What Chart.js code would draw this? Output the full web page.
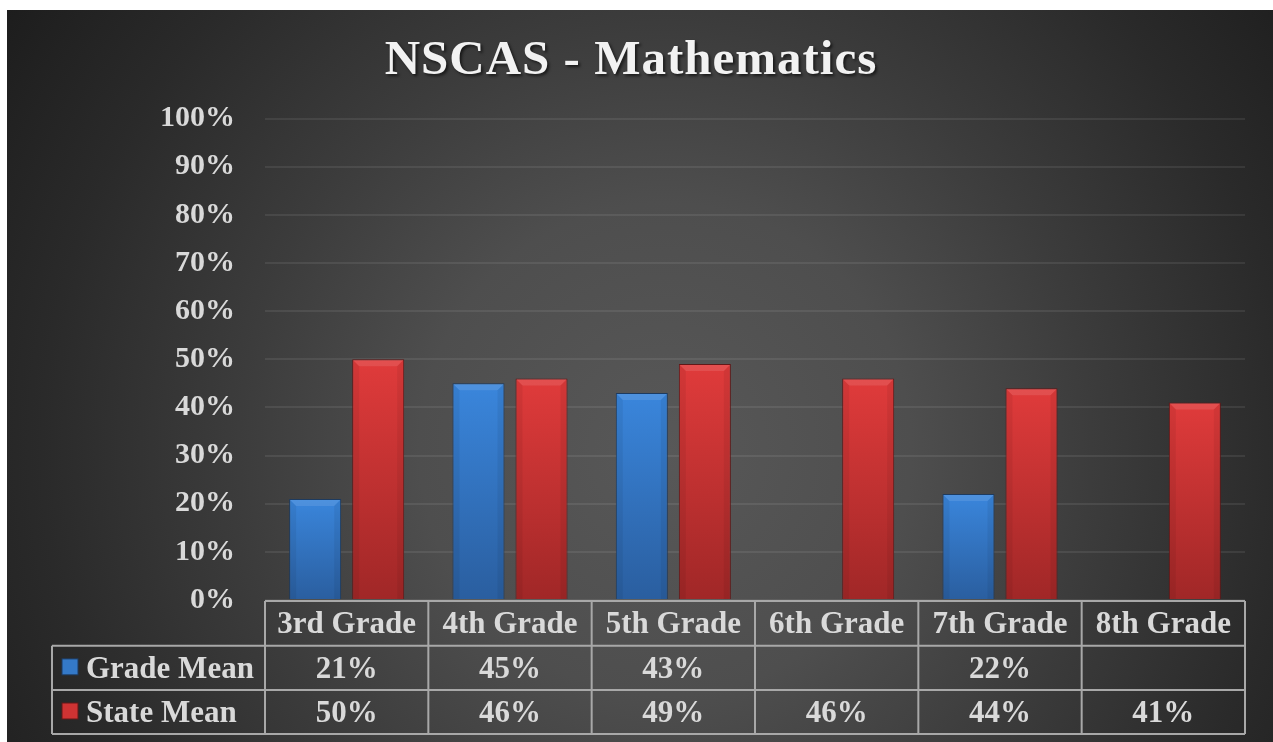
<!DOCTYPE html>
<html>
<head>
<meta charset="utf-8">
<script src="https://cdn.jsdelivr.net/npm/chart.js@4"></script>
<style>
  html, body { margin: 0; padding: 0; background: #fff; }
  #wrap {
    position: absolute; left: 7px; top: 10px; width: 1266px; height: 732px;
    background: radial-gradient(circle 820px at 52% 60%, #585858 0%, #4e4e4e 30%, #3c3c3c 52%, #2a2a2a 76%, #1b1b1b 100%);
  }
</style>
</head>
<body>
<div id="wrap"><canvas id="c"></canvas></div>
<script>
// NSCAS maths results, grade vs state, with an Excel-style data table under the bars.

const titleText = 'NSCAS - Mathematics';
const grades = ['3rd Grade', '4th Grade', '5th Grade', '6th Grade', '7th Grade', '8th Grade'];
const seriesNames = ['Grade Mean', 'State Mean'];
const gradeMean = [21, 45, 43, null, 22, null];
const stateMean = [50, 46, 49, 46, 44, 41];
const yTicks = [0, 10, 20, 30, 40, 50, 60, 70, 80, 90, 100];

const FONT = "'Liberation Serif', 'Times New Roman', serif";
const TXT = '#d9d9d9';

function barFill(top, bottom) {
  return (c) => {
    const { chart, raw } = c;
    if (!chart.chartArea || raw == null) return top;
    const y = chart.scales.y.getPixelForValue(raw);
    const g = chart.ctx.createLinearGradient(0, y, 0, chart.chartArea.bottom);
    g.addColorStop(0, top);
    g.addColorStop(1, bottom);
    return g;
  };
}

// soft bevel on each bar: light top edge, slightly dark sides
const bevelPlugin = {
  id: 'bevel',
  afterDatasetsDraw(chart) {
    const ctx = chart.ctx;
    const d = 6;
    ctx.save();
    chart.data.datasets.forEach((ds, i) => {
      chart.getDatasetMeta(i).data.forEach((bar, j) => {
        if (ds.data[j] == null) return;
        const { x, y, base, width } = bar.getProps(['x', 'y', 'base', 'width'], true);
        const l = x - width / 2 + 1, r = x + width / 2 - 1, t = y + 1, b = base;
        ctx.fillStyle = 'rgba(255,255,255,0.10)';
        ctx.beginPath();
        ctx.moveTo(l, t); ctx.lineTo(r, t); ctx.lineTo(r - d, t + d); ctx.lineTo(l + d, t + d);
        ctx.closePath(); ctx.fill();
        ctx.fillStyle = 'rgba(0,0,0,0.06)';
        ctx.beginPath();
        ctx.moveTo(l, t); ctx.lineTo(l + d, t + d); ctx.lineTo(l + d, b); ctx.lineTo(l, b);
        ctx.closePath(); ctx.fill();
        ctx.beginPath();
        ctx.moveTo(r, t); ctx.lineTo(r - d, t + d); ctx.lineTo(r - d, b); ctx.lineTo(r, b);
        ctx.closePath(); ctx.fill();
      });
    });
    ctx.restore();
  },
};

const titlePlugin = {
  id: 'bigTitle',
  afterDraw(chart) {
    const ctx = chart.ctx;
    ctx.save();
    ctx.font = 'bold 49px ' + FONT;
    ctx.letterSpacing = '1px';
    ctx.fillStyle = '#f2f2f2';
    ctx.textAlign = 'center';
    ctx.textBaseline = 'alphabetic';
    ctx.shadowColor = 'rgba(0,0,0,0.6)';
    ctx.shadowOffsetX = 2;
    ctx.shadowOffsetY = 2;
    ctx.shadowBlur = 3;
    ctx.fillText(titleText, 624, 64);
    ctx.restore();
  },
};

const tablePlugin = {
  id: 'dataTable',
  afterDraw(chart) {
    const { ctx, chartArea, scales: { x } } = chart;
    const half = (x.getPixelForValue(1) - x.getPixelForValue(0)) / 2;
    const b = chartArea.bottom;
    const rows = [b + 1, b + 45.7, b + 90, b + 134];
    const labelLeft = 45;
    const right = chartArea.right;

    ctx.save();
    ctx.strokeStyle = '#a8a8a8';
    ctx.lineWidth = 2;
    ctx.beginPath();
    ctx.moveTo(chartArea.left, rows[0]); ctx.lineTo(right, rows[0]);
    for (let r = 1; r < rows.length; r++) {
      ctx.moveTo(labelLeft, rows[r]); ctx.lineTo(right, rows[r]);
    }
    ctx.moveTo(labelLeft, rows[1]); ctx.lineTo(labelLeft, rows[3]);
    for (let i = 0; i <= grades.length; i++) {
      const xp = x.getPixelForValue(0) - half + i * half * 2;
      ctx.moveTo(xp, rows[0]); ctx.lineTo(xp, rows[3]);
    }
    ctx.stroke();

    ctx.font = 'bold 31px ' + FONT;
    ctx.fillStyle = TXT;
    ctx.textAlign = 'center';
    ctx.textBaseline = 'alphabetic';
    grades.forEach((g, i) => {
      ctx.fillText(g, x.getPixelForValue(i), (rows[0] + rows[1]) / 2 + 10);
    });

    chart.data.datasets.forEach((ds, r) => {
      const mid = (rows[r + 1] + rows[r + 2]) / 2;
      // legend key
      ctx.fillStyle = ds.keyColor;
      ctx.strokeStyle = ds.borderColor;
      ctx.lineWidth = 1;
      ctx.fillRect(55, mid - 9, 16, 16);
      ctx.strokeRect(55, mid - 9, 16, 16);
      ctx.fillStyle = TXT;
      ctx.textAlign = 'left';
      ctx.fillText(seriesNames[r], 79, mid + 10);
      ctx.textAlign = 'center';
      ds.data.forEach((v, i) => {
        if (v == null) return;
        ctx.fillText(v + '%', x.getPixelForValue(i), mid + 10);
      });
    });
    ctx.restore();
  },
};

new Chart(document.getElementById('c'), {
  type: 'bar',
  data: {
    labels: grades,
    datasets: [
      {
        label: seriesNames[0],
        data: gradeMean,
        backgroundColor: barFill('#3a86dc', '#2a5e9f'),
        keyColor: '#3479c8',
        borderColor: '#1d3b60',
        borderWidth: 1,
        categoryPercentage: 0.772,
        barPercentage: 0.825,
      },
      {
        label: seriesNames[1],
        data: stateMean,
        backgroundColor: barFill('#e03b3b', '#a02727'),
        keyColor: '#cf3333',
        borderColor: '#621818',
        borderWidth: 1,
        categoryPercentage: 0.772,
        barPercentage: 0.825,
      },
    ],
  },
  options: {
    responsive: true,
    maintainAspectRatio: false,
    animation: false,
    layout: { padding: { top: 108.5, right: 28, bottom: 142, left: 0 } },
    plugins: {
      legend: { display: false },
      title: { display: false },
      tooltip: { enabled: false },
    },
    scales: {
      x: { display: false },
      y: {
        min: 0,
        max: 100,
        afterBuildTicks: (s) => { s.ticks = yTicks.map(v => ({ value: v })); },
        afterFit: (s) => { s.width = 258; },
        border: { display: false },
        grid: { color: 'rgba(255,255,255,0.08)', lineWidth: 2, drawTicks: false },
        ticks: {
          padding: 30,
          color: TXT,
          font: { family: FONT, size: 30, weight: 'bold' },
          callback: v => v + '%',
        },
      },
    },
  },
  plugins: [bevelPlugin, titlePlugin, tablePlugin],
});
</script>
</body>
</html>
